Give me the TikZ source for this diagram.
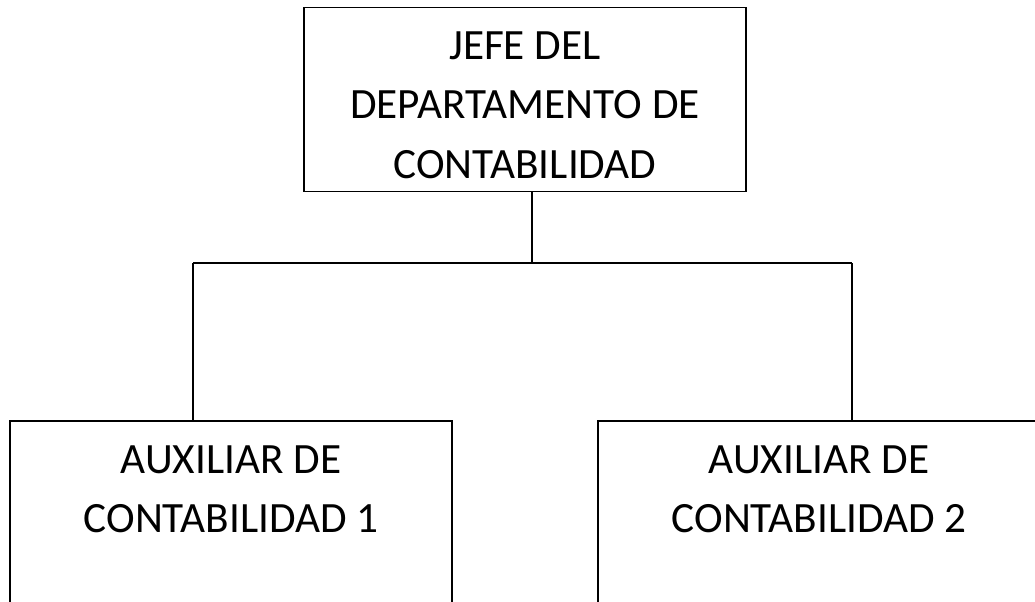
\documentclass[tikz,border=0pt]{standalone}
\usepackage{fontspec}
\setmainfont{Carlito}
\usetikzlibrary{positioning}

\begin{document}
\begin{tikzpicture}[x=0.02cm,y=-0.02cm,line width=1.1pt,
  puesto/.style={draw, rectangle, align=center, inner xsep=0pt, inner ysep=0.26cm,
    minimum width=8.84cm, font=\fontsize{24.6}{34}\selectfont}]
\useasboundingbox (0,0) rectangle (1035,602);

% define the boxes of the chart
  \node[puesto, text height=3.16cm, text depth=0cm]  (jefe) at (525,99.5)
{JEFE DEL\\DEPARTAMENTO DE\\CONTABILIDAD};
  \node[puesto, anchor=north, text height=1.98cm, text depth=1.9cm]  (aux1) at (231,420)
{AUXILIAR DE\\CONTABILIDAD 1};
  \node[puesto, anchor=north, text height=1.98cm, text depth=1.9cm]  (aux2) at (819,420)
{AUXILIAR DE\\CONTABILIDAD 2};

% define the links
  \coordinate (jbus) at (532,263);
  \coordinate (lbus) at (193,263);
  \coordinate (rbus) at (852,263);
  \draw (jefe.south -| jbus) -- (jbus);
  \draw (lbus) -- (rbus);
  \draw (lbus) -- (lbus |- aux1.north);
  \draw (rbus) -- (rbus |- aux2.north);

\end{tikzpicture}
\end{document}
